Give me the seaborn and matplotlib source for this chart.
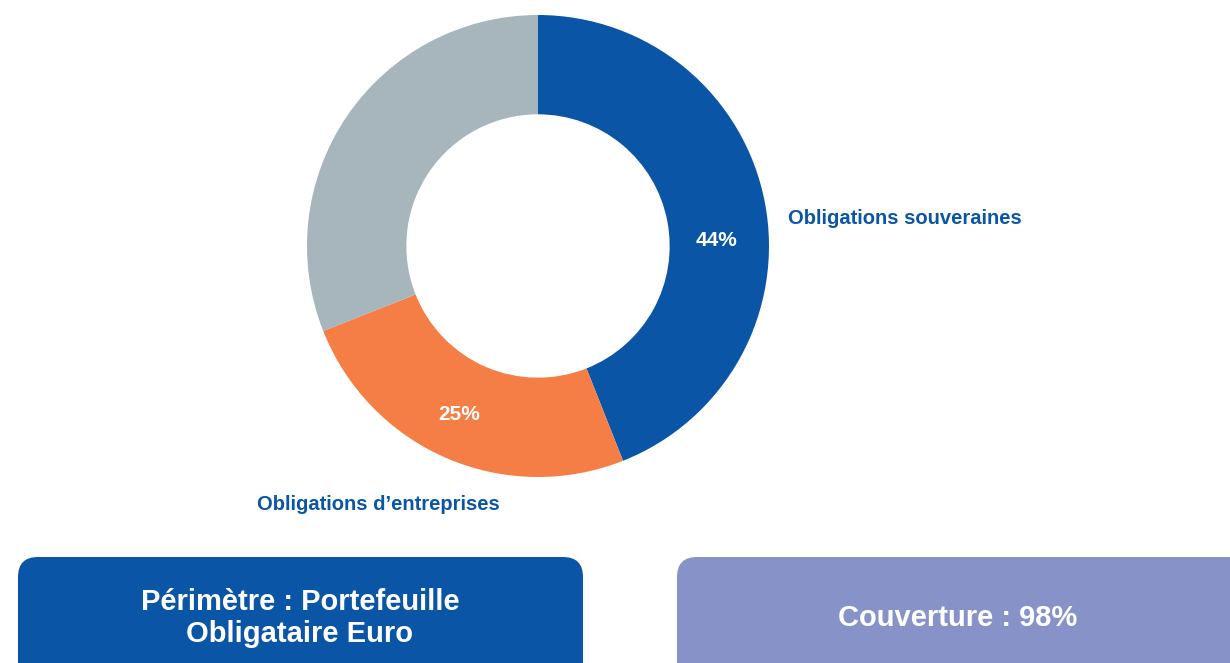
import matplotlib
matplotlib.use("Agg")
import matplotlib.pyplot as plt
import seaborn as sns
from matplotlib.patches import FancyBboxPatch

# data
categories = ["Obligations souveraines", "Obligations d\u2019entreprises", "Autres"]
shares = [44, 25, 31]
pct_labels = ["44%", "25%", ""]
colors = ["#0A55A5", "#F47E46", "#A7B5BC"]
box_texts = ["P\u00e9rim\u00e8tre : Portefeuille\nObligataire Euro", "Couverture : 98%"]
box_colors = ["#0A55A5", "#8793C8"]

sns.set_theme(style="white")
plt.rcParams['font.family'] = ['Liberation Sans', 'DejaVu Sans']

W, H = 1230, 663
fig = plt.figure(figsize=(W / 100, H / 100), dpi=100)

# donut
cx, cy, r = 538, 246, 231
ax = fig.add_axes([(cx - r) / W, (H - cy - r) / H, 2 * r / W, 2 * r / H])
wedges, _ = ax.pie(shares, colors=colors, startangle=90, counterclock=False,
                   radius=1, wedgeprops=dict(width=0.43, linewidth=0))
ax.set_xlim(-1, 1)
ax.set_ylim(-1, 1)
ax.set_aspect("equal")
ax.axis("off")

# overlay axes in pixel coordinates for boxes and labels (on top of the donut)
bg = fig.add_axes([0, 0, 1, 1])
bg.set_xlim(0, W)
bg.set_ylim(H, 0)
bg.axis("off")
bg.patch.set_alpha(0)

# percentage labels inside the ring
pct_pos = [(717, 241), (459, 415)]
for (x, y), t in zip(pct_pos, pct_labels[:2]):
    bg.text(x, y, t, color="white", fontsize=15, fontweight="bold",
            ha="center", va="center")

# category labels
bg.text(788, 218, categories[0], color="#0A55A5", fontsize=14.5,
        fontweight="bold", ha="left", va="center")
bg.text(378, 505, categories[1], color="#0A55A5", fontsize=14.5,
        fontweight="bold", ha="center", va="center")

# info boxes
boxes = [(18, 557, 565, 130), (677, 557, 580, 130)]
for (x, y, w, h), c in zip(boxes, box_colors):
    bg.add_patch(FancyBboxPatch((x + 20, y + 20), w - 40, h - 40,
                                boxstyle="round,pad=20", fc=c, ec="none"))
for x, y, t in [(300, 618, box_texts[0]), (958, 618, box_texts[1])]:
    bg.text(x, y, t, color="white", fontsize=21, fontweight="bold",
            ha="center", va="center", linespacing=1.22)

fig.savefig("out.png", dpi=100)
